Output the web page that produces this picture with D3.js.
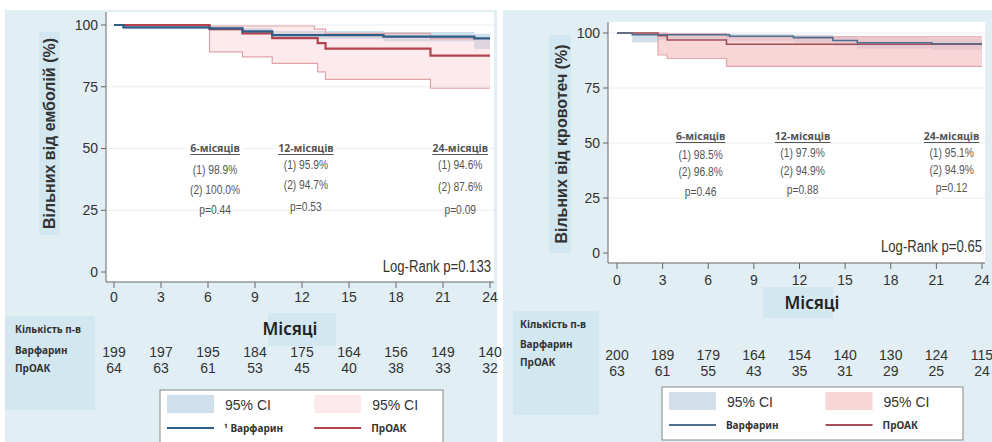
<!DOCTYPE html>
<html>
<head>
<meta charset="utf-8">
<script src="https://cdn.jsdelivr.net/npm/d3@7"></script>
<style>
  body { margin: 0; background: #fff; }
  svg { display: block; font-family: "Liberation Sans", Arial, sans-serif; }
  .tick-label { font-size: 14px; fill: #333; }
  .ann { font-size: 13.5px; fill: #555; text-anchor: middle; }
  .ann-head { font-family: "Noto Sans", sans-serif; font-size: 10.5px; font-weight: 700; fill: #555; text-anchor: middle; }
  .lab { font-family: "Noto Sans", sans-serif; font-size: 10px; font-weight: 700; fill: #333; }
</style>
</head>
<body>
<div id="chart"></div>
<script>

//////////////////////////// Data ////////////////////////////

var months = [0, 3, 6, 9, 12, 15, 18, 21, 24];
var yTicks = [0, 25, 50, 75, 100];

//Number at risk
var riskWarfEmb = [199, 197, 195, 184, 175, 164, 156, 149, 140];
var riskNoacEmb = [64, 63, 61, 53, 45, 40, 38, 33, 32];
var riskWarfBleed = [200, 189, 179, 164, 154, 140, 130, 124, 115];
var riskNoacBleed = [63, 61, 55, 43, 35, 31, 29, 25, 24];

//Kaplan-Meier steps [month, % free]
var warfEmb = [[0,100],[0.6,99.0],[6.1,98.6],[8.2,97.4],[10.1,95.9],[17.2,95.3],[23.0,94.6]];
var noacEmb = [[0,100],[6.1,98.3],[8.2,96.6],[10.1,94.7],[13.0,92.7],[13.5,90.4],[20.2,87.6]];
var warfBleed = [[0,100],[1.0,99.2],[7.4,98.5],[11.6,97.9],[14.2,96.6],[15.8,95.6],[20.7,95.1]];
var noacBleed = [[0,100],[2.7,98.8],[3.3,96.8],[7.2,94.9]];

//95% CI steps [month, low, high]
var warfEmbCI = [[0,100,100],[0.6,98.3,100],[6.1,97.8,99.7],[8.2,96.2,98.8],[10.1,94.3,97.6],[17.2,93.3,97.2],[23.0,90.3,96.5]];
var noacEmbCI = [[0,100,100],[6.1,89.1,99.6],[8.2,87.1,99.6],[10.1,84.5,99.6],[12.8,84.5,98.3],[13.0,81.0,98.3],[13.5,78.0,96.6],[20.2,74.4,94.5]];
var warfBleedCI = [[0,100,100],[1.0,95.8,100],[2.7,96.9,99.9],[7.4,96.4,99.5],[11.6,95.6,99.2],[14.2,94.2,98.6],[15.8,93.0,97.9],[20.7,92.3,97.5]];
var noacBleedCI = [[0,100,100],[2.7,90.0,100],[3.3,88.4,99.6],[7.2,84.8,98.3]];

//Milestone annotations
var annHeads = ["6-місяців", "12-місяців", "24-місяців"];
var annEmb = [["(1) 98.9%", "(2) 100.0%", "p=0.44"], ["(1) 95.9%", "(2) 94.7%", "p=0.53"], ["(1) 94.6%", "(2) 87.6%", "p=0.09"]];
var annBleed = [["(1) 98.5%", "(2) 96.8%", "p=0.46"], ["(1) 97.9%", "(2) 94.9%", "p=0.88"], ["(1) 95.1%", "(2) 94.9%", "p=0.12"]];

var seriesNames = ["Варфарин", "ПрОАК"];

//////////////////////////// Set up the SVG ////////////////////////////

var W = 992, H = 442;
var svg = d3.select("#chart").append("svg").attr("width", W).attr("height", H);

var bg = "#e1eef3", hi = "#d2e7f0";

svg.append("rect").attr("x", 5).attr("y", 10).attr("width", 492).attr("height", H - 10).attr("fill", bg);
svg.append("rect").attr("x", 503).attr("y", 10).attr("width", W - 503).attr("height", H - 10).attr("fill", bg);

drawPanel({
	box: {l: 106, r: 494, t: 12, b: 282},
	xr: [114, 490], yr: [272, 25],
	tickY: 302,
	yTitle: "Вільних від емболій (%)", yTitleX: 49, yTitleBox: [39, 32, 21, 203],
	xTitle: [290, 329], xTitleBox: [268, 313, 68, 33],
	tableX: 15, tableY: [329, 350, 368], tableBox: [5, 316, 90, 94],
	riskY: [357, 373],
	warf: warfEmb, noac: noacEmb, warfCI: warfEmbCI, noacCI: noacEmbCI,
	risk: [riskWarfEmb, riskNoacEmb],
	ann: annEmb, annX: [6.45, 12.25, 22.1], annHeadY: 152, annY: [[174, 194, 214], [169, 189, 211], [169, 191, 214]],
	logRank: "Log-Rank p=0.133", logRankY: 272,
	legend: [160, 390, 283, 60], sup: true,
	blueFill: "#a9c4dd", blueOp: 0.55, redFill: "#f6c4c8", redOp: 0.35, redEdge: "#dfa3a8",
	blueLine: "#2e5e88", redLine: "#b3434f", lw: 2.2
});

drawPanel({
	box: {l: 608, r: 985, t: 22, b: 263},
	xr: [617, 982], yr: [253, 33],
	tickY: 285,
	yTitle: "Вільних від кровотеч (%)", yTitleX: 561, yTitleBox: [549, 35, 22, 218],
	xTitle: [812, 303], xTitleBox: [763, 287, 70, 31],
	tableX: 520, tableY: [324, 344, 362], tableBox: [513, 311, 86, 104],
	riskY: [360, 376],
	warf: warfBleed, noac: noacBleed, warfCI: warfBleedCI, noacCI: noacBleedCI,
	risk: [riskWarfBleed, riskNoacBleed],
	ann: annBleed, annX: [5.5, 12.2, 22.0], annHeadY: 140, annY: [[159, 176, 196], [157, 175, 194], [157, 174, 192]],
	logRank: "Log-Rank p=0.65", logRankY: 252,
	legend: [662, 387, 301, 53], sup: false,
	blueFill: "#b4c8db", blueOp: 0.6, redFill: "#f3b9bd", redOp: 0.6, redEdge: "#e3a5aa",
	blueLine: "#4f6f8c", redLine: "#a34d58", lw: 1.6
});

function drawPanel(o) {
	var g = svg.append("g");
	var x = d3.scaleLinear().domain([0, 24]).range(o.xr);
	var y = d3.scaleLinear().domain([0, 100]).range(o.yr);

	//Highlight boxes behind titles
	[o.yTitleBox, o.xTitleBox, o.tableBox].forEach(function(b) {
		g.append("rect").attr("x", b[0]).attr("y", b[1]).attr("width", b[2]).attr("height", b[3]).attr("fill", hi);
	});

	//White plot area
	g.append("rect").attr("x", o.box.l).attr("y", o.box.t)
		.attr("width", o.box.r - o.box.l).attr("height", o.box.b - o.box.t).attr("fill", "#fff");

	//Gridlines
	g.selectAll(".grid").data(yTicks.slice(1)).enter().append("line")
		.attr("x1", o.box.l + 1).attr("x2", o.box.r)
		.attr("y1", function(d) { return y(d); }).attr("y2", function(d) { return y(d); })
		.attr("stroke", "#ececec").attr("stroke-width", 1);

	//Extend steps to 24 months
	function ext(arr) { var last = arr[arr.length - 1]; return arr.concat([[24].concat(last.slice(1))]); }

	var area = d3.area().curve(d3.curveStepAfter)
		.x(function(d) { return x(d[0]); })
		.y0(function(d) { return y(d[1]); })
		.y1(function(d) { return y(d[2]); });
	var line = d3.line().curve(d3.curveStepAfter)
		.x(function(d) { return x(d[0]); })
		.y(function(d) { return y(d[1]); });

	g.append("path").attr("d", area(ext(o.warfCI))).attr("fill", o.blueFill).attr("fill-opacity", o.blueOp);
	g.append("path").attr("d", area(ext(o.noacCI))).attr("fill", o.redFill).attr("fill-opacity", o.redOp);

	//CI edges of the ПрОАК band
	[1, 2].forEach(function(k) {
		g.append("path")
			.attr("d", line(ext(o.noacCI).map(function(d) { return [d[0], d[k]]; })))
			.attr("fill", "none").attr("stroke", o.redEdge).attr("stroke-width", 1.2);
	});

	g.append("path").attr("d", line(ext(o.noac))).attr("fill", "none").attr("stroke", o.redLine).attr("stroke-width", o.lw);
	g.append("path").attr("d", line(ext(o.warf))).attr("fill", "none").attr("stroke", o.blueLine).attr("stroke-width", o.lw);

	//Axes
	g.append("line").attr("x1", o.box.l).attr("x2", o.box.l).attr("y1", o.box.t).attr("y2", o.box.b).attr("stroke", "#666");
	g.append("line").attr("x1", o.box.l).attr("x2", o.box.r).attr("y1", o.box.b).attr("y2", o.box.b).attr("stroke", "#666");

	g.selectAll(".yt").data(yTicks).enter().append("line")
		.attr("x1", o.box.l - 5).attr("x2", o.box.l)
		.attr("y1", function(d) { return y(d); }).attr("y2", function(d) { return y(d); })
		.attr("stroke", "#666");
	g.selectAll(".yl").data(yTicks).enter().append("text")
		.attr("class", "tick-label")
		.attr("x", o.box.l - 8).attr("y", function(d) { return y(d); })
		.attr("dy", "0.35em").attr("text-anchor", "end")
		.text(function(d) { return d; });

	g.selectAll(".xt").data(months).enter().append("line")
		.attr("x1", function(d) { return x(d); }).attr("x2", function(d) { return x(d); })
		.attr("y1", o.box.b).attr("y2", o.box.b + 6)
		.attr("stroke", "#666");
	g.selectAll(".xl").data(months).enter().append("text")
		.attr("class", "tick-label")
		.attr("x", function(d) { return x(d); }).attr("y", o.tickY)
		.attr("text-anchor", "middle")
		.text(function(d) { return d; });

	//Axis titles
	g.append("text")
		.attr("transform", "translate(" + o.yTitleX + "," + (o.yTitleBox[1] + o.yTitleBox[3] / 2) + ") rotate(-90)")
		.attr("text-anchor", "middle").attr("dy", "0.35em")
		.style("font-size", "16px").style("font-weight", 700).style("fill", "#333")
		.text(o.yTitle);
	g.append("text")
		.attr("x", o.xTitle[0]).attr("y", o.xTitle[1]).attr("dy", "0.35em")
		.attr("text-anchor", "middle")
		.style("font-family", "'Noto Sans', sans-serif").style("font-size", "17px").style("font-weight", 600).style("fill", "#222")
		.text("Місяці");

	//Milestone text
	o.annX.forEach(function(m, i) {
		var head = g.append("text").attr("class", "ann-head")
			.attr("x", x(m)).attr("y", o.annHeadY)
			.style("paint-order", "stroke").style("stroke", "#fff").style("stroke-width", 6)
			.text(annHeads[i]);
		var w = head.node().getComputedTextLength();
		g.append("line")
			.attr("x1", x(m) - w / 2).attr("x2", x(m) + w / 2)
			.attr("y1", o.annHeadY + 2.5).attr("y2", o.annHeadY + 2.5)
			.attr("stroke", "#555").attr("stroke-width", 1);
		o.ann[i].forEach(function(t, j) {
			//Narrow look: squeeze horizontally
			g.append("text").attr("class", "ann")
				.attr("transform", "translate(" + x(m) + "," + o.annY[i][j] + ") scale(0.76,1)")
				.text(t);
		});
	});

	g.append("text")
		.attr("transform", "translate(" + (o.box.r - 3) + "," + o.logRankY + ") scale(0.82,1)")
		.attr("text-anchor", "end")
		.style("font-size", "16px").style("fill", "#333")
		.text(o.logRank);

	//Number at risk table
	["Кількість п-в"].concat(seriesNames).forEach(function(t, i) {
		g.append("text").attr("class", "lab")
			.attr("x", o.tableX).attr("y", o.tableY[i]).attr("dy", "0.35em")
			.text(t);
	});
	o.risk.forEach(function(row, r) {
		g.selectAll(".risk" + r).data(row).enter().append("text")
			.attr("x", function(d, i) { return x(months[i]); })
			.attr("y", o.riskY[r])
			.attr("text-anchor", "middle")
			.style("font-size", "14px").style("fill", "#333")
			.text(function(d) { return d; });
	});

	//Legend
	var L = o.legend;
	var lg = g.append("g").attr("transform", "translate(" + L[0] + "," + L[1] + ")");
	lg.append("rect").attr("width", L[2]).attr("height", L[3])
		.attr("fill", "#fff").attr("stroke", "#888").attr("stroke-width", 1);
	var colW = L[2] * 0.52;
	[[o.blueFill, o.blueOp, o.blueLine, seriesNames[0]], [o.redFill, o.redOp, o.redLine, seriesNames[1]]].forEach(function(s, i) {
		var cx = 7 + i * colW;
		lg.append("rect").attr("x", cx).attr("y", 5).attr("width", 47).attr("height", 18)
			.attr("fill", s[0]).attr("fill-opacity", s[1]);
		lg.append("text").attr("x", cx + 58).attr("y", 20)
			.style("font-size", "14px").style("fill", "#333").text("95% CI");
		lg.append("line").attr("x1", cx).attr("x2", cx + 47).attr("y1", 38).attr("y2", 38)
			.attr("stroke", s[2]).attr("stroke-width", 2);
		lg.append("text").attr("class", "lab").attr("x", cx + 57).attr("y", 42)
			.text((i === 0 && o.sup ? "¹ " : "") + s[3]);
	});
}//function drawPanel

</script>
</body>
</html>
